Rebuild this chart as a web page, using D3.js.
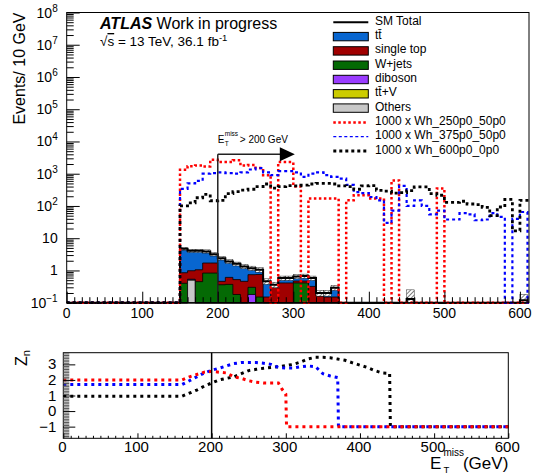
<!DOCTYPE html>
<html><head><meta charset="utf-8">
<script src="https://cdn.jsdelivr.net/npm/d3@7"></script>
<style>
body{margin:0;background:#fff}
text{font-family:"Liberation Sans",Arial,Helvetica,sans-serif;fill:#000}
</style></head>
<body><svg id="c" width="544" height="475"></svg>
<script>
// ---------------- DATA ----------------
const binLow = d3.range(150, 620, 10);   // lower bin edges (GeV), 10 GeV bins
const binWidth = 10;
const ttbar     = [3.9,3.1,3.0,2.2,1.5,1.94,1.29,1.08,0.87,0.44, 0.3,0.31,0.06,0.17,0.17,0.18,0.2,0.26,0.04,0.05, 0.14,0,0,0,0,0,0,0,0,0, 0,0,0,0,0,0,0,0,0,0, 0,0,0,0,0,0.12,0];
const singleTop = [0.45,0.45,0.6,0.87,0.87,0.1,0.24,0.34,0.46,0.44, 0.6,0.15,0.28,0.41,0.41,0.06,0.06,0.32,0.16,0.15, 0.15,0,0,0,0,0,0,0,0,0, 0.01,0,0,0,0,0,0,0,0,0, 0,0,0,0,0,0,0];
const wjets     = [0.40,0,0.45,0.83,0.83,0.36,0.37,0.18,0,0.12, 0.15,0,0,0,0,0.41,0.41,0,0,0, 0,0,0,0,0,0,0,0,0,0, 0.12,0,0,0,0,0,0,0,0,0, 0,0,0,0,0,0,0];
const diboson   = [0,0.03,0,0,0,0,0,0,0,0.18, 0,0,0,0,0,0,0,0,0,0, 0,0,0,0,0,0,0,0,0,0, 0,0,0,0,0,0,0,0,0,0, 0,0,0,0,0,0,0];
const ttV       = [0,0,0,0,0,0,0,0,0,0, 0,0,0.02,0,0,0,0,0,0,0, 0,0,0,0,0,0,0,0,0,0, 0,0,0,0,0,0,0,0,0,0, 0,0,0,0,0,0,0];
const others    = [0,0.5,0,0,0,0,0,0,0,0, 0,0,0,0,0,0,0,0,0,0, 0,0,0,0,0,0,0,0,0,0, 0,0,0,0,0,0,0,0,0,0, 0,0,0,0,0,0,0];
const statErr   = [0.5,0.45,0.45,0.45,0.4,0.3,0.25,0.22,0.2,0.18, 0.17,0.09,0.07,0.09,0.09,0.1,0.1,0.09,0.04,0.04, 0.05,0,0,0,0,0,0,0,0,0, 0.12,0,0,0,0,0,0,0,0,0, 0,0,0,0,0,0.06,0];

const sig250 = [1330,1720,1800,1670,2700,2300,2300,2600,1800,1870, 1500,900,0,2300,2300,400,0,170,170,170, 170,0,150,215,215,170,170,0,620,0, 0,0,0,0,350,0,0,0,0,0, 0,0,0,0,0,0,0];
const sig375 = [340,500,600,1000,1050,1100,1050,1000,1100,1350, 1500,1100,900,1200,1200,1100,800,1000,1100,900, 800,700,450,270,250,190,150,30,72,420, 100,150,100,55,72,38,38,60,55,36, 38,60,46,0,40,65,0];
const sig600 = [100,125,180,230,145,150,240,280,310,330, 400,480,360,400,430,420,440,480,500,500, 480,420,400,330,420,430,305,290,250,260, 300,390,390,240,215,130,130,140,115,110, 90,50,93,160,17,150,150];

// Zn vs E_T^miss cut
const znRedCut  = [0,160,170,180,190,200,210,220,230,240,250,260,270,280,290,295,300,301,600];
const znRed     = [2.0,2.0,2.2,2.35,2.5,2.55,2.5,2.45,2.2,2.1,1.95,1.85,1.8,1.8,1.8,1.4,1.1,-1,-1];
const znBlueCut = [0,160,170,180,190,200,210,220,230,240,250,260,270,280,290,300,310,320,330,340,350,360,370,371,600];
const znBlue    = [1.7,1.7,1.95,2.2,2.45,2.62,2.75,2.9,3.05,3.12,3.12,3.12,3.07,3.0,2.8,2.76,2.76,2.85,2.9,2.85,2.4,2.25,2.15,-1,-1];
const znBlackCut= [0,160,170,180,190,200,210,220,230,240,250,260,270,280,290,300,310,320,330,340,350,360,370,380,390,400,410,420,430,440,441,600];
const znBlack   = [0.95,0.95,1.15,1.35,1.6,1.8,2.0,2.1,2.2,2.4,2.6,2.68,2.75,2.8,2.85,2.92,3.0,3.15,3.35,3.45,3.45,3.42,3.34,3.26,3.1,2.95,2.8,2.6,2.45,2.42,-1,-1];

const cutValue = 200, arrowTip = 302, arrowLevel = 4000;

const yTickVals   = [0.1,1,10,1e2,1e3,1e4,1e5,1e6,1e7,1e8];
const yTickLabels = ["10^−1","1","10","10^2","10^3","10^4","10^5","10^6","10^7","10^8"];
const xTickVals   = [0,100,200,300,400,500,600];
const znTickVals  = [-1,0,1,2,3];
const znTickLabels= ["−1","0","1","2","3"];

const legendLabels = ["SM Total","tt̄","single top","W+jets","diboson","tt̄+V","Others",
  "1000 x Wh_250p0_50p0","1000 x Wh_375p0_50p0","1000 x Wh_600p0_0p0"];

// ---------------- STYLE ----------------
const col = {tt:"#0866d0", st:"#a00000", wj:"#046a04", db:"#9a3cff", ttv:"#cccc00", oth:"#c8c8c8"};
const stackDefs = [
  {v:others, c:col.oth}, {v:ttV, c:col.ttv}, {v:diboson, c:col.db},
  {v:wjets, c:col.wj}, {v:singleTop, c:col.st}, {v:ttbar, c:col.tt}];
const sigDefs = [
  {v:sig250, c:"#ff0000", w:2.5, dash:"2.5,2.5", lw:2.5, ldash:"2.5,2.5"},
  {v:sig375, c:"#0000ff", w:2.2, dash:"3,3",     lw:1.2, ldash:"3,2.5"},
  {v:sig600, c:"#000000", w:2.8, dash:"3,3",     lw:2.8, ldash:"3,3"}];

const M = {l:66.7, r:529, t:12.5, b:302.7};
const S = {l:63.3, r:508.3, t:352.7, b:438.3};

const svg = d3.select("#c");
const defs = svg.append("defs");
const pat = defs.append("pattern").attr("id","hatch").attr("width",3).attr("height",3)
  .attr("patternUnits","userSpaceOnUse").attr("patternTransform","rotate(45)");
pat.append("rect").attr("width",3).attr("height",3).attr("fill","#fff");
pat.append("line").attr("x1",0).attr("y1",0).attr("x2",0).attr("y2",3).attr("stroke","#000").attr("stroke-width",1);
defs.append("clipPath").attr("id","clipM").append("rect")
  .attr("x",M.l).attr("y",M.t).attr("width",M.r-M.l).attr("height",M.b-M.t+2);

const xM = d3.scaleLinear().domain([0,612]).range([M.l,M.r]);
const yM = d3.scaleLog().domain([0.1,1e8]).range([M.b,M.t]);
const xS = d3.scaleLinear().domain([0,600]).range([S.l,S.r]);
const yS = d3.scaleLinear().domain([-1.75,3.75]).range([S.b,S.t]);
const cy = v => yM(Math.max(v,0.1));

function stepPts(vals){
  const pts=[[xM.domain()[0],0],[binLow[0],0]];
  vals.forEach((v,i)=>{pts.push([binLow[i],v]);pts.push([binLow[i]+binWidth,v]);});
  pts.push([binLow[binLow.length-1]+binWidth,0]);
  return pts;
}

const gM = svg.append("g").attr("clip-path","url(#clipM)");

// stack (cumulative, drawn top-first)
let cum = binLow.map(()=>0);
const cums = stackDefs.map(s=>{cum = cum.map((c,i)=>c+s.v[i]); return {c:s.c, v:cum.slice()};});
const area = d3.area().x(d=>xM(d[0])).y0(yM(0.1)).y1(d=>cy(d[1]));
cums.slice().reverse().forEach(s=>{
  gM.append("path").attr("d",area(stepPts(s.v))).attr("fill",s.c).attr("stroke","#000").attr("stroke-width",0.8);
});
const total = cum;

// stat error boxes
gM.selectAll("rect.err").data(binLow.map((b,i)=>({b,t:total[i],e:statErr[i]})).filter(d=>d.t>0))
  .enter().append("rect")
  .attr("x",d=>xM(d.b)).attr("width",d=>xM(d.b+binWidth)-xM(d.b))
  .attr("y",d=>cy(d.t+d.e)).attr("height",d=>cy(d.t-d.e)-cy(d.t+d.e))
  .attr("fill","url(#hatch)").attr("stroke","#000").attr("stroke-width",0.4);

// SM total
const line = d3.line().x(d=>xM(d[0])).y(d=>cy(d[1]));
gM.append("path").attr("d",line(stepPts(total))).attr("fill","none").attr("stroke","#000").attr("stroke-width",2);

// signals
sigDefs.forEach(s=>{
  gM.append("path").attr("d",line(stepPts(s.v))).attr("fill","none")
    .attr("stroke",s.c).attr("stroke-width",s.w).attr("stroke-dasharray",s.dash);
});

// cut arrow
const ax = xM(cutValue), ay = yM(arrowLevel), tipX = xM(arrowTip);
svg.append("line").attr("x1",ax).attr("x2",ax).attr("y1",ay).attr("y2",yM(0.1)).attr("stroke","#222").attr("stroke-width",1.5);
svg.append("line").attr("x1",ax).attr("x2",tipX-14).attr("y1",ay).attr("y2",ay).attr("stroke","#222").attr("stroke-width",1.5);
svg.append("path").attr("d",`M${tipX},${ay} L${tipX-15},${ay-7} L${tipX-15},${ay+7} Z`).attr("fill","#000");
const cl = svg.append("text").attr("x",ax).attr("y",ay-11).attr("font-size",10);
cl.append("tspan").text("E");
svg.append("text").attr("x",ax+7).attr("y",ay-18).attr("font-size",6.5).text("miss");
svg.append("text").attr("x",ax+7).attr("y",ay-8).attr("font-size",6.5).text("T");
svg.append("text").attr("x",ax+22).attr("y",ay-11).attr("font-size",10).text("> 200 GeV");

// frame
svg.append("rect").attr("x",M.l).attr("y",M.t).attr("width",M.r-M.l).attr("height",M.b-M.t)
  .attr("fill","none").attr("stroke","#000").attr("stroke-width",1);

// axes main
const minorY = [];
yTickVals.slice(0,-1).forEach(d=>{for(let k=2;k<10;k++) minorY.push(k*d);});
svg.append("g").attr("transform",`translate(${M.l},0)`).call(d3.axisLeft(yM).tickValues(yTickVals).tickSize(-13).tickFormat(""))
  .call(g=>g.select(".domain").remove());
svg.append("g").attr("transform",`translate(${M.l},0)`).call(d3.axisLeft(yM).tickValues(minorY).tickSize(-7).tickFormat(""))
  .call(g=>g.select(".domain").remove());
const minorX = d3.range(0,612,10).filter(v=>v%100!==0);
svg.append("g").attr("transform",`translate(0,${M.b})`).call(d3.axisBottom(xM).tickValues(xTickVals).tickSize(-11).tickFormat(""))
  .call(g=>g.select(".domain").remove());
svg.append("g").attr("transform",`translate(0,${M.b})`).call(d3.axisBottom(xM).tickValues(minorX).tickSize(-5.5).tickFormat(""))
  .call(g=>g.select(".domain").remove());

yTickVals.forEach((v,i)=>{
  const [base,sup] = yTickLabels[i].split("^");
  const t = svg.append("text").attr("x",M.l-9).attr("y",yM(v)+5).attr("text-anchor","end").attr("font-size",14);
  t.append("tspan").text(base);
  if(sup) t.append("tspan").attr("dy",-6).attr("font-size",10).text(sup);
});
xTickVals.forEach(v=>{
  svg.append("text").attr("x",xM(v)).attr("y",M.b+15).attr("text-anchor","middle").attr("font-size",14).text(v);
});

// titles
svg.append("text").attr("transform",`translate(25,${M.t}) rotate(-90)`).attr("text-anchor","end").attr("font-size",16).text("Events/ 10 GeV");
const at = svg.append("text").attr("x",100).attr("y",29).attr("font-size",16);
at.append("tspan").attr("font-weight","bold").attr("font-style","italic").text("ATLAS");
at.append("tspan").text(" Work in progress");
const ss = svg.append("text").attr("x",100).attr("y",46).attr("font-size",13.5);
ss.append("tspan").text("√");
ss.append("tspan").attr("style","text-decoration:overline").text("s");
ss.append("tspan").text(" = 13 TeV, 36.1 fb");
ss.append("tspan").attr("dy",-5).attr("font-size",9.5).text("-1");

// legend
const lx0 = 333.3, lx1 = 368.3, ltx = 375, ly0 = 22.3, lstep = 14.3;
legendLabels.forEach((lab,i)=>{
  const y = ly0 + i*lstep;
  if(i===0){
    svg.append("line").attr("x1",lx0).attr("x2",lx1).attr("y1",y).attr("y2",y).attr("stroke","#000").attr("stroke-width",2);
  } else if(i<=6){
    const s = stackDefs[6-i];
    svg.append("rect").attr("x",lx0).attr("y",y-4.2).attr("width",lx1-lx0).attr("height",8.4)
      .attr("fill",s.c).attr("stroke","#000").attr("stroke-width",1);
  } else {
    const s = sigDefs[i-7];
    svg.append("line").attr("x1",lx0).attr("x2",lx1).attr("y1",y).attr("y2",y)
      .attr("stroke",s.c).attr("stroke-width",s.lw).attr("stroke-dasharray",s.ldash);
  }
  svg.append("text").attr("x",ltx).attr("y",y+2.5).attr("font-size",12).text(lab);
});

// ---------------- Zn panel ----------------
const zl = d3.line().x(d=>xS(d[0])).y(d=>yS(d[1]));
[[znBlackCut,znBlack,"#000"],[znBlueCut,znBlue,"#0000ff"],[znRedCut,znRed,"#ff0000"]].forEach(([cx,cv,c])=>{
  svg.append("path").attr("d",zl(cx.map((x,i)=>[x,cv[i]]))).attr("fill","none")
    .attr("stroke",c).attr("stroke-width",3).attr("stroke-dasharray","3,4");
});
svg.append("line").attr("x1",xS(cutValue)).attr("x2",xS(cutValue)).attr("y1",S.t).attr("y2",S.b).attr("stroke","#000").attr("stroke-width",1.5);
svg.append("rect").attr("x",S.l).attr("y",S.t).attr("width",S.r-S.l).attr("height",S.b-S.t)
  .attr("fill","none").attr("stroke","#000").attr("stroke-width",1);
const znMinor = d3.range(-17,38).map(v=>v/10).filter(v=>Math.abs(v-Math.round(v))>1e-6);
svg.append("g").attr("transform",`translate(${S.l},0)`).call(d3.axisLeft(yS).tickValues(znTickVals).tickSize(-12).tickFormat(""))
  .call(g=>g.select(".domain").remove());
svg.append("g").attr("transform",`translate(${S.l},0)`).call(d3.axisLeft(yS).tickValues(znMinor).tickSize(-6).tickFormat(""))
  .call(g=>g.select(".domain").remove()).selectAll("line").attr("stroke","#555");
svg.append("g").attr("transform",`translate(0,${S.b})`).call(d3.axisBottom(xS).tickValues(xTickVals).tickSize(-5).tickFormat(""))
  .call(g=>g.select(".domain").remove());
svg.append("g").attr("transform",`translate(0,${S.b})`).call(d3.axisBottom(xS).tickValues(d3.range(10,600,10).filter(v=>v%100)).tickSize(-2.5).tickFormat(""))
  .call(g=>g.select(".domain").remove());
znTickVals.forEach((v,i)=>{
  svg.append("text").attr("x",S.l-7).attr("y",yS(v)+5).attr("text-anchor","end").attr("font-size",15).text(znTickLabels[i]);
});
xTickVals.forEach(v=>{
  svg.append("text").attr("x",xS(v)-1).attr("y",S.b+14).attr("text-anchor","middle").attr("font-size",15).text(v);
});
const zt = svg.append("text").attr("transform",`translate(27,350) rotate(-90)`).attr("text-anchor","end").attr("font-size",16);
zt.append("tspan").text("Z");
zt.append("tspan").attr("dy",3).attr("font-size",11).text("n");
// x title
svg.append("text").attr("x",430).attr("y",469).attr("font-size",17).text("E");
svg.append("text").attr("x",443.5).attr("y",456).attr("font-size",10).text("miss");
svg.append("text").attr("x",443.5).attr("y",473).attr("font-size",9.5).text("T");
svg.append("text").attr("x",S.r).attr("y",469).attr("text-anchor","end").attr("font-size",17).text("(GeV)");
</script></body></html>
